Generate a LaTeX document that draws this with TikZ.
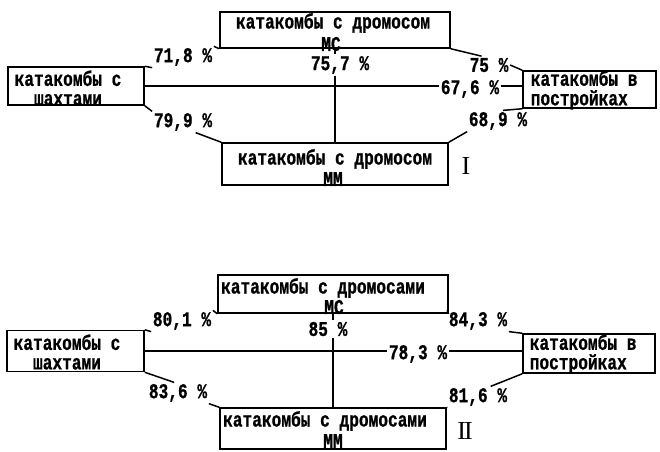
\documentclass[tikz,border=0pt]{standalone}
\usepackage{fontspec}
\newfontfamily\tw[FakeStretch=0.77, BoldFeatures={FakeBold=0.8}]{Liberation Mono}
\newfontfamily\rn{Liberation Serif}
\usetikzlibrary{positioning}

\begin{document}
\begin{tikzpicture}[x=1pt, y=-1pt, line width=1.5pt,
  box/.style={draw, inner sep=0pt},
  txt/.style={font=\tw\bfseries\fontsize{21}{19.5}\selectfont, inner sep=0pt, align=center},
  pct/.style={font=\tw\bfseries\fontsize{21}{19.5}\selectfont, inner sep=1pt},
  num/.style={font=\rn\fontsize{26}{26}\selectfont, inner sep=0pt}]
  \useasboundingbox (0,0) rectangle (660,451);
  % ---- I: katakomby s dromosom ----
  \node[box, minimum width=230pt, minimum height=36pt] (msI) at (335,30) {};
  \node[box, minimum width=136pt, minimum height=38pt] (shI) at (76,86) {};
  \node[box, minimum width=133pt, minimum height=37pt] (rtI) at (589.5,89.5) {};
  \node[box, minimum width=226pt, minimum height=42pt] (mmI) at (335,164) {};
  \node[txt] (tmsI) at (333,23) {катакомбы с дромосом};
  \node[txt] (tmsIb) at (331,44) {МС};
  \node[txt] (tshI) at (68,88) {катакомбы с\\шахтами};
  \node[txt, align=left, anchor=west] (trtI) at (530,90) {катакомбы в\\постройках};
  \node[txt] (tmmI) at (335,159) {катакомбы с дромосом};
  \node[txt] (tmmIb) at (333,179) {ММ};
  \node[num] (nI) at (466,166) {I};
  % percentages
  \node[pct] (p718) at (183,57) {71,8 \%};
  \node[pct] (p757) at (340,65) {75,7 \%};
  \node[pct] (p75) at (489,65) {75 \%};
  \node[pct] (p676) at (470,89) {67,6 \%};
  \node[pct] (p799) at (183,122) {79,9 \%};
  \node[pct] (p689) at (498,121) {68,9 \%};
  \draw (shI.north east) -- (p718.south west);
  \draw (p718.north east) -- (msI.south west);
  \draw (msI.south) -- (msI.south |- p757.north);
  \draw (msI.south |- p757.south) -- (mmI.north);
  \draw (msI.south east) -- (p75.130);
  \draw (p75.east) -- (rtI.north west);
  \draw (shI.east) -- (shI.east -| p676.west);
  \draw (shI.east -| p676.east) -- (shI.east -| rtI.west);
  \draw (shI.south east) -- (p799.north west);
  \draw (p799.-40) -- (mmI.north west);
  \draw (rtI.south west) -- (p689.65);
  \draw (p689.south west) -- (mmI.north east);
  % ---- II: katakomby s dromosami ----
  \node[box, minimum width=230pt, minimum height=38pt] (msII) at (333,294) {};
  \node[box, minimum width=137pt, minimum height=41pt] (shII) at (75.5,351) {};
  \node[box, minimum width=132pt, minimum height=39pt] (rtII) at (589,353.5) {};
  \node[box, minimum width=226pt, minimum height=41pt] (mmII) at (333,428.5) {};
  \node[txt] (tmsII) at (323,288) {катакомбы с дромосами};
  \node[txt] (tmsIIb) at (334,307) {МС};
  \node[txt] (tshII) at (67,352) {катакомбы с\\шахтами};
  \node[txt, align=left, anchor=west] (trtII) at (529,354) {катакомбы в\\постройках};
  \node[txt] (tmmII) at (325,421) {катакомбы с дромосами};
  \node[txt] (tmmIIb) at (333,441) {ММ};
  \node[num] (nII) at (465,431) {I\kern-2ptI};
  % percentages
  \node[pct] (p801) at (182,321) {80,1 \%};
  \node[pct] (p85) at (328,329) {85 \%};
  \node[pct] (p843) at (478,321) {84,3 \%};
  \node[pct] (p783) at (418,354) {78,3 \%};
  \node[pct] (p836) at (178,393) {83,6 \%};
  \node[pct] (p816) at (478,397) {81,6 \%};
  \draw (shII.north east) -- (p801.south west);
  \draw (p801.north east) -- (msII.south west);
  \draw (msII.south) -- (msII.south |- p85.north);
  \draw (msII.south |- p85.south) -- (mmII.north);
  \draw (msII.south east) -- (p843.north west);
  \draw (p843.south east) -- (rtII.north west);
  \draw (shII.east) -- (shII.east -| p783.west);
  \draw (shII.east -| p783.east) -- (shII.east -| rtII.west);
  \draw (shII.south east) -- (p836.110);
  \draw (p836.south east) -- (mmII.north west);
  \draw (rtII.south west) -- (p816.40);
  \draw (p816.south west) -- (mmII.north east);
\end{tikzpicture}
\end{document}
